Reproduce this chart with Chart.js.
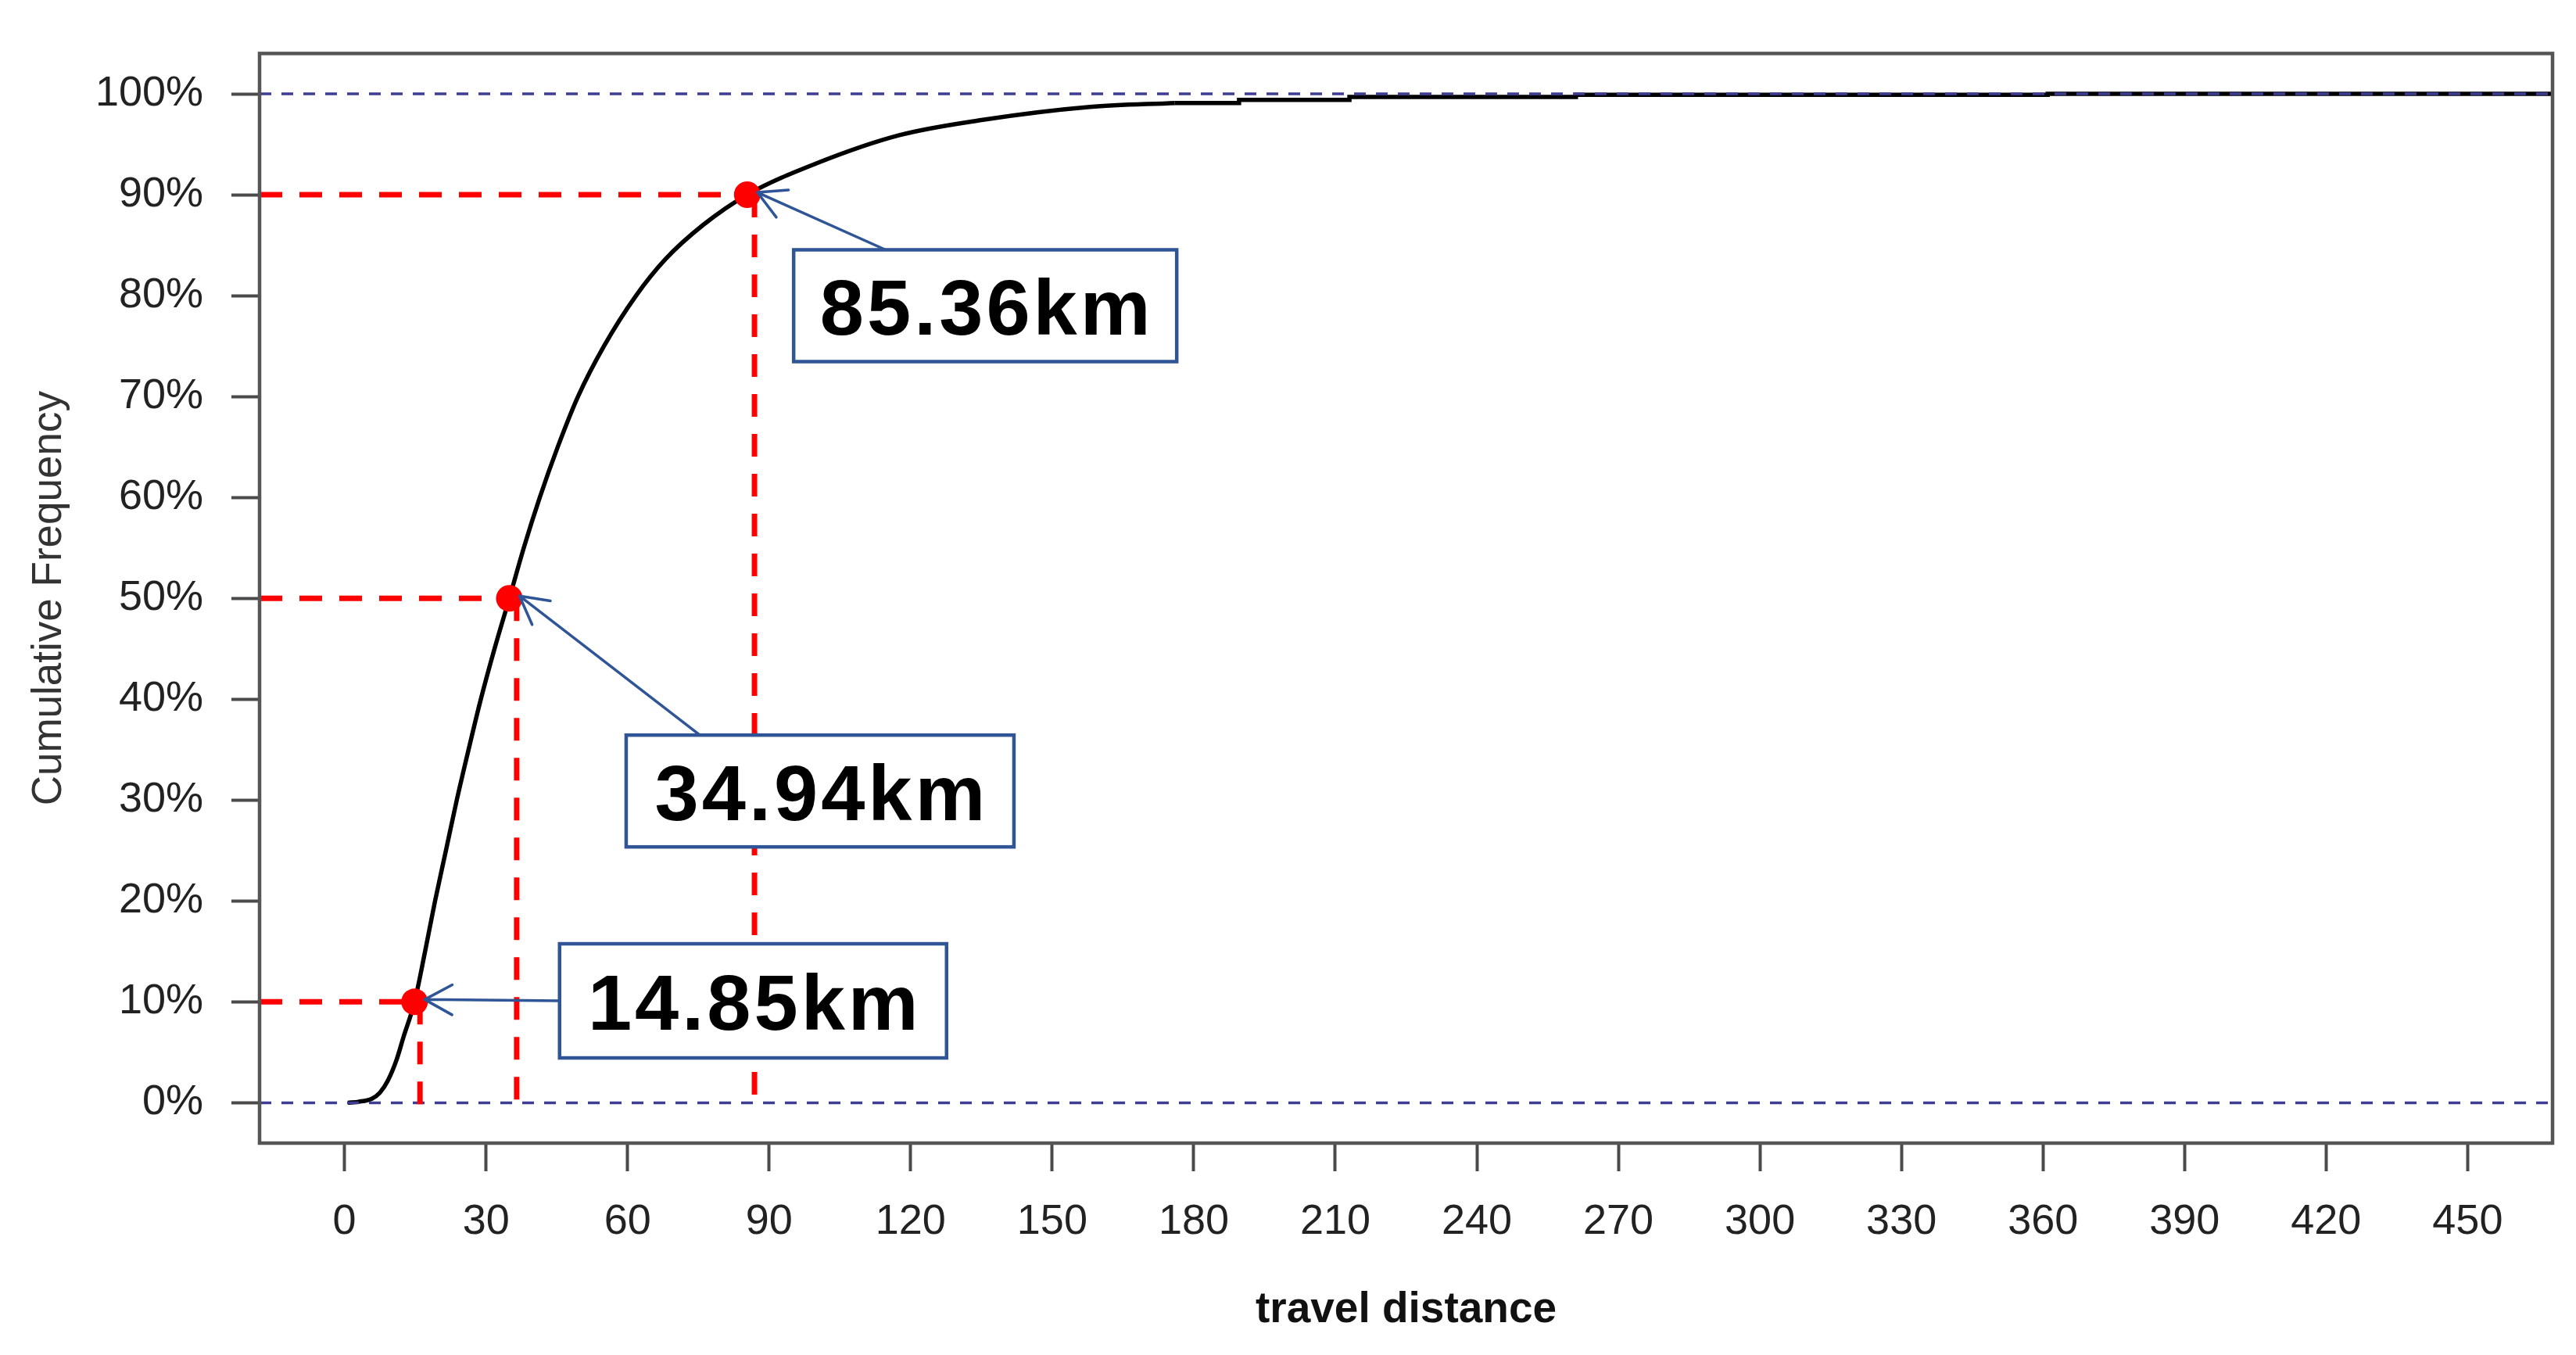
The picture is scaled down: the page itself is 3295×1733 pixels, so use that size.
<!DOCTYPE html>
<html><head><meta charset="utf-8">
<script src="https://cdn.jsdelivr.net/npm/chart.js@4.4.1/dist/chart.umd.min.js"></script>
<style>html,body{margin:0;padding:0;background:#fff;overflow:hidden}canvas{display:block}</style>
</head><body>
<canvas id="c" width="3295" height="1733" style="width:3295px;height:1733px"></canvas>
<script>
// ---- data ----
const distance   = [0.7, 3, 5.8, 7.5, 9.2, 11, 12.5, 14.85, 17, 19.2, 21.5, 23.8, 26.3, 28.9, 31.8, 34.94, 38, 41.4, 45.2, 49.5, 55, 61.8, 68, 76, 85.36, 100, 117.6, 135, 158, 176];
const cumulative = [0, 0.1, 0.4, 1.0, 2.2, 4.2, 6.5, 10, 14.8, 20, 25, 30, 35, 40, 45, 50, 55, 60, 65, 70, 75, 80, 83.6, 87, 90, 93.1, 95.9, 97.4, 98.7, 99.1];
const tailDistance   = [176, 189.6, 213, 261, 361, 468];
const tailCumulative = [99.1, 99.4, 99.7, 99.9, 100, 100];
const quantileKm    = [14.85, 34.94, 85.36];
const quantileLevel = [10, 50, 90];
const dropLineKm    = [16.0, 36.5, 86.9];
const quantileLabels = ['14.85km', '34.94km', '85.36km'];
const referenceLevels = [0, 100];
const xTicks = [0, 30, 60, 90, 120, 150, 180, 210, 240, 270, 300, 330, 360, 390, 420, 450];
const yTicks = [0, 10, 20, 30, 40, 50, 60, 70, 80, 90, 100];
const xRange = [-18, 468];
const yRange = [-4, 104];

// ---- callout layout (box centre in data units, box size in px) ----
const calloutLayout = [
  {cx: 86.6,  cy: 10.1, w: 495, h: 146, from: 'left'},
  {cx: 100.8, cy: 30.9, w: 496, h: 143, from: 'top', fx: 0.19},
  {cx: 135.8, cy: 79.0, w: 490, h: 143, from: 'top', fx: 0.24}
];

const FONT = '"Liberation Sans", Arial, Helvetica, sans-serif';
const RED = '#ff0000', NAVY = '#3d3d94', BOXBLUE = '#2f5597';

const datasets = [];
datasets.push({
  label: 'quantiles', order: 0, showLine: false,
  data: quantileKm.map((v, i) => ({x: v, y: quantileLevel[i]})),
  pointRadius: 17, pointBackgroundColor: RED, pointBorderWidth: 0, pointHoverRadius: 17
});
quantileKm.forEach((v, i) => {
  datasets.push({
    label: 'h' + i, order: 1, data: [{x: xRange[0], y: quantileLevel[i]}, {x: v, y: quantileLevel[i]}],
    borderColor: RED, borderWidth: 7, borderDash: [29, 22], pointRadius: 0, fill: false
  });
  datasets.push({
    label: 'v' + i, order: 1, data: [{x: dropLineKm[i], y: quantileLevel[i]}, {x: dropLineKm[i], y: yRange[0] * 0.15}],
    borderColor: RED, borderWidth: 7, borderDash: [29, 22], pointRadius: 0, fill: false
  });
});
referenceLevels.forEach((lv, i) => {
  datasets.push({
    label: 'ref' + i, order: 2, data: [{x: xRange[0], y: lv}, {x: xRange[1], y: lv}],
    borderColor: NAVY, borderWidth: 3.5, borderDash: [15, 13], pointRadius: 0, fill: false
  });
});
datasets.push({
  label: 'tail', order: 3, stepped: true,
  data: tailDistance.map((v, i) => ({x: v, y: tailCumulative[i]})),
  borderColor: '#000', borderWidth: 5.5, pointRadius: 0, fill: false
});
datasets.push({
  label: 'ecdf', order: 3, cubicInterpolationMode: 'monotone',
  data: distance.map((v, i) => ({x: v, y: cumulative[i]})),
  borderColor: '#000', borderWidth: 5.5, pointRadius: 0, fill: false
});

const calloutPlugin = {
  id: 'callouts',
  afterDatasetsDraw(chart) {
    const {ctx, chartArea: a, scales: {x, y}} = chart;
    ctx.save();
    ctx.strokeStyle = '#555'; ctx.lineWidth = 4.5;
    ctx.strokeRect(a.left, a.top, a.right - a.left, a.bottom - a.top);
    calloutLayout.forEach((c, i) => {
      const px = x.getPixelForValue(quantileKm[i]);
      const py = y.getPixelForValue(quantileLevel[i]);
      const bx = x.getPixelForValue(c.cx) - c.w / 2;
      const by = y.getPixelForValue(c.cy) - c.h / 2;
      let tx, ty;
      if (c.from === 'left') { tx = bx; ty = by + c.h / 2; } else { tx = bx + c.w * c.fx; ty = by; }
      const hx = px + 13, hy = py - 3;
      ctx.strokeStyle = BOXBLUE; ctx.lineWidth = 3.5; ctx.lineCap = 'round';
      ctx.beginPath();
      ctx.moveTo(tx, ty); ctx.lineTo(hx, hy);
      const ang = Math.atan2(ty - hy, tx - hx);
      [-1, 1].forEach(s => {
        ctx.moveTo(hx, hy);
        ctx.lineTo(hx + 40 * Math.cos(ang + s * 0.5), hy + 40 * Math.sin(ang + s * 0.5));
      });
      ctx.stroke();
      ctx.fillStyle = '#fff'; ctx.fillRect(bx, by, c.w, c.h);
      ctx.lineWidth = 4.5; ctx.strokeStyle = BOXBLUE; ctx.lineCap = 'butt';
      ctx.strokeRect(bx, by, c.w, c.h);
      ctx.fillStyle = '#000';
      ctx.font = 'bold 101px ' + FONT;
      ctx.letterSpacing = '4px';
      ctx.textAlign = 'center'; ctx.textBaseline = 'alphabetic';
      ctx.fillText(quantileLabels[i], bx + c.w / 2 + 2, by + c.h / 2 + 37);
      ctx.letterSpacing = '0px';
    });
    ctx.restore();
  }
};

new Chart(document.getElementById('c'), {
  type: 'line',
  data: {datasets},
  plugins: [calloutPlugin],
  options: {
    responsive: false, animation: false, devicePixelRatio: 1,
    layout: {padding: {top: 60, right: 30, left: 0, bottom: 0}},
    plugins: {legend: {display: false}, tooltip: {enabled: false}},
    events: [],
    scales: {
      x: {
        type: 'linear', min: xRange[0], max: xRange[1],
        afterBuildTicks: s => { s.ticks = xTicks.map(v => ({value: v})); },
        afterFit: s => { s.height = 271; },
        grid: {drawOnChartArea: false, drawTicks: true, tickLength: 36, tickWidth: 4, tickColor: '#4a4a4a'},
        border: {display: false},
        ticks: {color: '#222', font: {family: FONT, size: 54}, padding: 33, maxRotation: 0, autoSkip: false},
        title: {display: true, text: 'travel distance', color: '#111', font: {family: FONT, size: 55, weight: 'bold'}, padding: {top: 0, bottom: 24}}
      },
      y: {
        type: 'linear', min: yRange[0], max: yRange[1],
        afterBuildTicks: s => { s.ticks = yTicks.map(v => ({value: v})); },
        afterFit: s => { s.width = 332; },
        grid: {drawOnChartArea: false, drawTicks: true, tickLength: 36, tickWidth: 4, tickColor: '#4a4a4a'},
        border: {display: false},
        ticks: {color: '#222', font: {family: FONT, size: 54}, padding: 36, autoSkip: false, callback: v => v + '%'},
        title: {display: true, text: 'Cumulative Frequency', color: '#333', font: {family: FONT, size: 53}, padding: {top: 32, bottom: 0}}
      }
    }
  }
});
</script>
</body></html>
